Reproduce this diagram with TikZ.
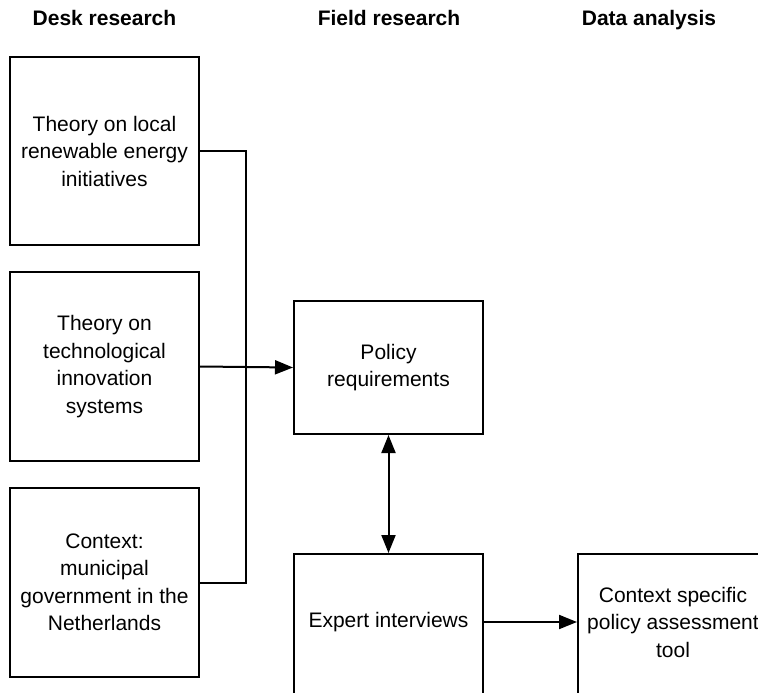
\documentclass[tikz,border=0pt]{standalone}
\usepackage{fontspec}
\setmainfont{Liberation Sans}
\usetikzlibrary{arrows.meta}
\begin{document}
\begin{tikzpicture}[x=1pt,y=-1pt,
 box/.style={draw,line width=2pt,minimum width=189pt,align=center,inner sep=0pt,font=\fontsize{21}{27.5}\selectfont},
 txt/.style={align=center,inner sep=0pt,font=\fontsize{21}{27.5}\selectfont},
 head/.style={anchor=base,inner sep=0pt,font=\fontsize{21}{25}\selectfont\bfseries},
 conn/.style={line width=2pt},
 tip/.tip={Triangle[length=18pt,width=14pt]},
 arr/.style={conn,-tip},
 darr/.style={conn,tip-tip}]
\useasboundingbox (0,0) rectangle (758,693);
\clip (0,0) rectangle (758,693);
\node[head] (h1) at (104.5,26) {Desk research};
\node[head] (h2) at (389,26) {Field research};
\node[head] (h3) at (649,26) {Data analysis};
\node[box,minimum height=188pt] (b1) at (104.5,151) {Theory on local\\renewable energy\\initiatives};
\node[box,minimum height=189pt] (b2) at (104.5,366.5) {Theory on\\technological\\innovation\\systems};
\node[box,minimum height=189pt] (b3) at (104.5,582.5) {Context:\\municipal\\government in the\\Netherlands};
\node[box,minimum height=133pt] (pol) at (388.5,367.5) {Policy\\requirements};
\node[box,minimum height=189pt,anchor=north] (exp) at (388.5,553) {};
\node[txt] (expt) at (388.5,622) {Expert interviews};
\node[box,minimum width=190pt,minimum height=189pt,anchor=north] (ctx) at (673,553) {};
\node[txt] (ctxt) at (673,622) {Context specific\\policy assessment\\tool};
\coordinate (j) at (246,367);
\draw[conn] (b1.east) -| (j) |- (b3.east);
\draw[arr] (b2.east) -- (pol.west);
\draw[darr] (pol.south) -- (exp.north);
\draw[arr] (exp.east |- expt) -- (ctx.west |- ctxt);
\end{tikzpicture}
\end{document}
